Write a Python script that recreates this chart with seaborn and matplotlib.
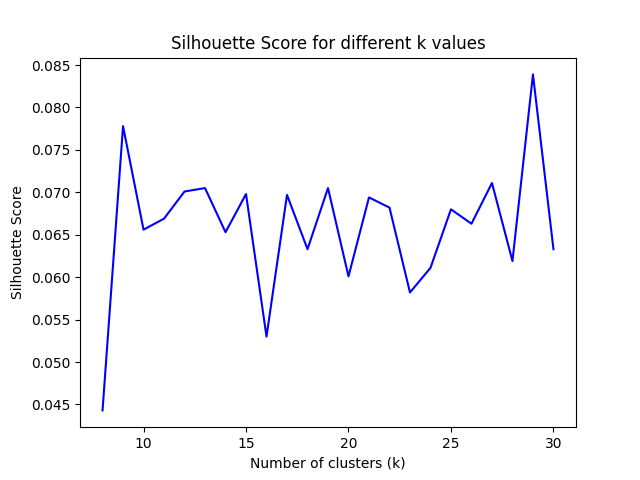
import matplotlib
matplotlib.use("Agg")
import matplotlib.pyplot as plt
import seaborn as sns
import pandas as pd

k_values = list(range(8, 31))
scores = [0.0443, 0.0778, 0.0656, 0.0669, 0.0701, 0.0705, 0.0653, 0.0698,
          0.0530, 0.0697, 0.0633, 0.0705, 0.0601, 0.0694, 0.0682, 0.0582,
          0.0611, 0.0680, 0.0663, 0.0711, 0.0619, 0.0839, 0.0633]

df = pd.DataFrame({"k": k_values, "score": scores})

fig, ax = plt.subplots(figsize=(6.4, 4.8), dpi=100)
sns.lineplot(data=df, x="k", y="score", color="blue", ax=ax)
ax.set_title("Silhouette Score for different k values")
ax.set_xlabel("Number of clusters (k)")
ax.set_ylabel("Silhouette Score")
fig.savefig("out.png", dpi=100)
